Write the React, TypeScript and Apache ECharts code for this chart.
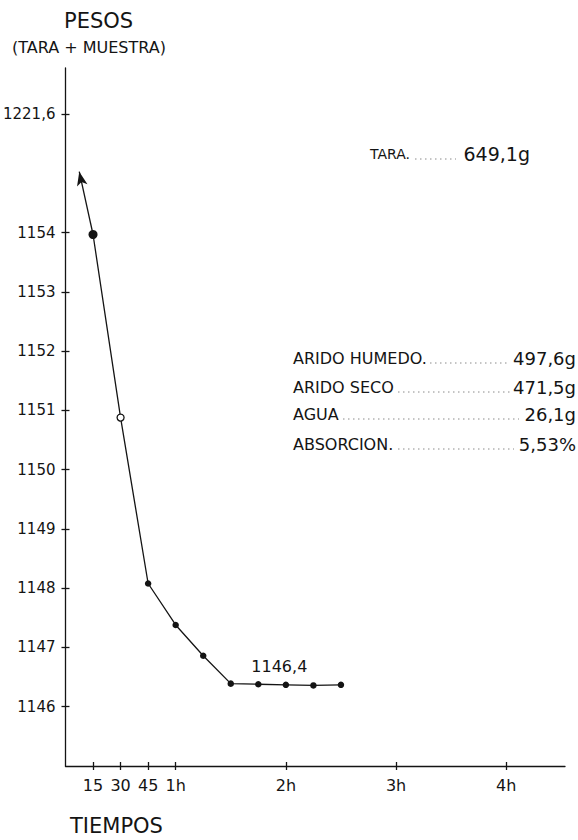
import React, { useEffect, useRef } from 'react';
import * as echarts from 'echarts';

// Times in minutes, weights in grams (tara + muestra) on the drawn scale
const times = [15, 30, 45, 60, 75, 90, 105, 120, 135, 150];
const weights = [1153.97, 1150.88, 1148.08, 1147.38, 1146.86, 1146.39, 1146.38, 1146.37, 1146.36, 1146.37];
// Arrow pointing to the initial (off-scale) weight 1221,6
const arrowStart = [15, 1153.97];
const arrowEnd = [7.5, 1155.03];

// Broken axis: 1221,6 is drawn at the position of 1156
const yTickValues = [1146, 1147, 1148, 1149, 1150, 1151, 1152, 1153, 1154, 1156];
const yTickLabels = ['1146', '1147', '1148', '1149', '1150', '1151', '1152', '1153', '1154', '1221,6'];
const xTickValues = [15, 30, 45, 60, 120, 180, 240];
const xTickLabels = ['15', '30', '45', '1h', '2h', '3h', '4h'];

const plateauLabel = '1146,4';
const infoLabels = ['TARA.', 'ARIDO HUMEDO.', 'ARIDO SECO', 'AGUA', 'ABSORCION.'];
const infoValues = ['649,1g', '497,6g', '471,5g', '26,1g', '5,53%'];

const FONT = 'DejaVu Sans';
const INK = '#141414';

export default function App() {
  const ref = useRef<HTMLDivElement>(null);

  useEffect(() => {
    if (!ref.current) return;
    const chart = echarts.init(ref.current, undefined, { renderer: 'svg' });

    const yFmt = (v: number) => {
      const i = yTickValues.indexOf(v);
      return i >= 0 ? yTickLabels[i] : '';
    };
    const xFmt = (v: number) => {
      const i = xTickValues.indexOf(v);
      return i >= 0 ? xTickLabels[i] : '';
    };

    const seriesData = times.map((t, i) => {
      const item: any = { value: [t, weights[i]] };
      if (i === 0) item.symbolSize = 9;
      if (i === 1) {
        item.itemStyle = { color: '#ffffff', borderColor: INK, borderWidth: 1.3 };
        item.symbolSize = 7;
      }
      if (i === 6) {
        item.label = {
          show: true,
          position: 'top',
          distance: 6,
          offset: [21, 0],
          formatter: plateauLabel,
          fontSize: 16,
          fontFamily: FONT,
          color: INK,
        };
      }
      return item;
    });

    const rowY = [154, 358, 387, 414, 444];
    const labelX = [370, 293, 293, 293, 293];
    const labelSize = [14, 16, 16, 16, 16];
    const valueRight = [530, 576, 576, 576, 576];
    const valueSize = [19, 18, 18, 18, 18];
    const dots = [
      [415, 456],
      [430, 510],
      [398, 510],
      [343, 519],
      [398, 514],
    ];

    const graphics: any[] = [];
    infoLabels.forEach((lab, i) => {
      graphics.push({
        type: 'text',
        x: labelX[i],
        y: rowY[i],
        style: {
          text: lab,
          font: `${labelSize[i]}px "${FONT}"`,
          fill: INK,
          textAlign: 'left',
          textVerticalAlign: 'middle',
        },
      });
      graphics.push({
        type: 'text',
        x: valueRight[i],
        y: rowY[i],
        style: {
          text: infoValues[i],
          font: `${valueSize[i]}px "${FONT}"`,
          fill: INK,
          textAlign: 'right',
          textVerticalAlign: 'middle',
        },
      });
      graphics.push({
        type: 'line',
        shape: { x1: dots[i][0], y1: rowY[i] + 5, x2: dots[i][1], y2: rowY[i] + 5 },
        style: { stroke: '#8a8a8a', lineWidth: 1, lineDash: [1.5, 3.5] },
      });
    });

    const axisLineStyle = { color: INK, width: 1.3 };

    chart.setOption({
      animation: false,
      backgroundColor: '#ffffff',
      title: [
        { text: 'PESOS', left: 64, top: 10, padding: 0, textStyle: { fontSize: 21, fontWeight: 'normal', fontFamily: FONT, color: INK } },
        { text: '(TARA + MUESTRA)', left: 12, top: 39, padding: 0, textStyle: { fontSize: 16, fontWeight: 'normal', fontFamily: FONT, color: INK } },
        { text: 'TIEMPOS', left: 70, top: 815, padding: 0, textStyle: { fontSize: 21, fontWeight: 'normal', fontFamily: FONT, color: INK } },
      ],
      grid: { left: 60, right: 13, top: 68, bottom: 74, containLabel: false },
      xAxis: [
        {
          type: 'value',
          min: 0,
          max: 272,
          position: 'bottom',
          axisLine: { show: true, onZero: false, lineStyle: axisLineStyle },
          axisTick: { show: true, customValues: xTickValues, length: 4, lineStyle: axisLineStyle },
          axisLabel: { customValues: xTickValues, formatter: xFmt, margin: 11, fontSize: 16, fontFamily: FONT, color: INK },
          splitLine: { show: false },
        },
        {
          type: 'value',
          min: 0,
          max: 272,
          position: 'bottom',
          offset: 0,
          axisLine: { show: false, onZero: false },
          axisTick: { show: true, inside: true, customValues: xTickValues, length: 4, lineStyle: axisLineStyle },
          axisLabel: { show: false },
          splitLine: { show: false },
        },
      ],
      yAxis: [
        {
          type: 'value',
          min: 1145,
          max: 1156.78,
          position: 'left',
          axisLine: { show: true, onZero: false, lineStyle: axisLineStyle },
          axisTick: { show: true, customValues: yTickValues, length: 4, lineStyle: axisLineStyle },
          axisLabel: { customValues: yTickValues, formatter: yFmt, margin: 10, fontSize: 15, fontFamily: FONT, color: INK },
          splitLine: { show: false },
        },
        {
          type: 'value',
          min: 1145,
          max: 1156.78,
          position: 'left',
          offset: 0,
          axisLine: { show: false, onZero: false },
          axisTick: { show: true, inside: true, customValues: yTickValues, length: 4, lineStyle: axisLineStyle },
          axisLabel: { show: false },
          splitLine: { show: false },
        },
      ],
      series: [
        {
          type: 'line',
          xAxisIndex: 0,
          yAxisIndex: 0,
          data: seriesData,
          symbol: 'circle',
          symbolSize: 6.5,
          showSymbol: true,
          lineStyle: { color: INK, width: 1.3 },
          itemStyle: { color: INK },
          markLine: {
            silent: true,
            symbol: ['none', 'arrow'],
            symbolSize: [8, 14],
            lineStyle: { type: 'solid', color: INK, width: 1.3 },
            label: { show: false },
            data: [[{ coord: arrowStart }, { coord: arrowEnd }]],
          },
        },
      ],
      graphic: graphics,
    });

    return () => chart.dispose();
  }, []);

  return (
    <div
      ref={ref}
      style={{ position: 'fixed', left: 0, top: 0, width: 578, height: 840, background: '#fff' }}
    />
  );
}
